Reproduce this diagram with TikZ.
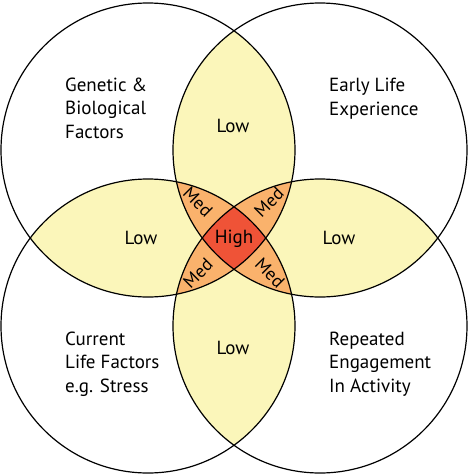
\documentclass[tikz,border=0pt]{standalone}
\usepackage{fontspec}
\setmainfont{PT Sans}
\usetikzlibrary{positioning}
\definecolor{lowyellow}{RGB}{251,246,186}
\definecolor{medorange}{RGB}{250,178,108}
\definecolor{highred}{RGB}{239,83,55}

\begin{document}
\begin{tikzpicture}[x=1pt, y=-1pt,
    every node/.style={font=\fontsize{19}{23.5}\selectfont, inner sep=0pt},
    factor/.style={align=left, anchor=base west},
    level/.style={anchor=base},
    medlabel/.style={anchor=center, font=\fontsize{18}{20}\selectfont},
    ring/.style={draw=black, line width=1.2pt}]
    \useasboundingbox (0,0) rectangle (467,475);
    % circle centres
    \coordinate (tl) at (148,150);
    \coordinate (tr) at (320,150);
    \coordinate (bl) at (148,326);
    \coordinate (br) at (320,326);
    % two circles
    \foreach \a/\b in {tl/tr, tl/bl, tr/br, bl/br} {
        \begin{scope}
            \clip (\a) circle[radius=147pt];
            \fill[lowyellow] (\b) circle[radius=147pt];
        \end{scope}
    }
    % three circles
    \foreach \a/\b/\c in {tl/tr/bl, tl/tr/br, tl/bl/br, tr/bl/br} {
        \begin{scope}
            \clip (\a) circle[radius=147pt];
            \clip (\b) circle[radius=147pt];
            \fill[medorange] (\c) circle[radius=147pt];
        \end{scope}
    }
    % all four
    \begin{scope}
        \clip (tl) circle[radius=147pt];
        \clip (tr) circle[radius=147pt];
        \clip (bl) circle[radius=147pt];
        \fill[highred] (br) circle[radius=147pt];
    \end{scope}
    \foreach \c in {tl, tr, bl, br}
        \draw[ring] (\c) circle[radius=147pt];
    % factor texts (anchored at the last baseline)
    \node[factor] (genetic) at (65,138) {Genetic \&\\Biological\\Factors};
    \node[factor] (early) at (329,115) {Early Life\\Experience};
    \node[factor] (current) at (65,392) {Current\\Life Factors\\e.g. Stress};
    \node[factor] (repeated) at (329,392) {Repeated\\Engagement\\In Activity};
    % levels
    \node[level] (lowtop) at (233,132) {Low};
    \node[level] (lowleft) at (141,244) {Low};
    \node[level] (lowright) at (339,244) {Low};
    \node[level] (lowbottom) at (233,354) {Low};
    \node[level] (high) at (234,243) {High};
    \node[medlabel, rotate=-45] (medtl) at (198,202) {Med};
    \node[medlabel, rotate=45] (medtr) at (269,202) {Med};
    \node[medlabel, rotate=45] (medbl) at (198,273) {Med};
    \node[medlabel, rotate=-45] (medbr) at (270,273) {Med};
\end{tikzpicture}
\end{document}
